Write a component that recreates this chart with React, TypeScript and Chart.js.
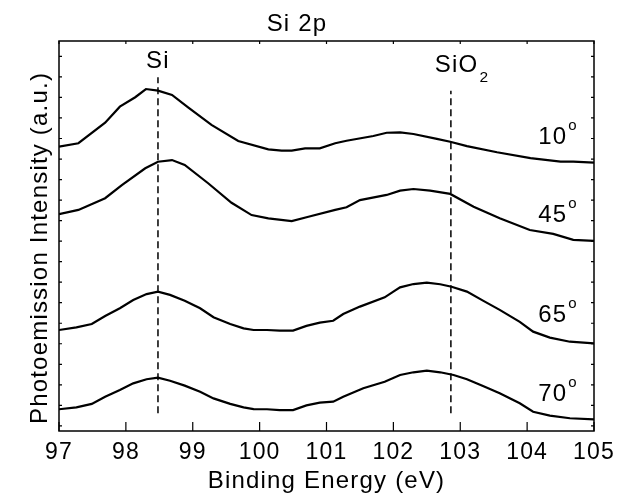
import { useEffect, useRef } from "react";
import { Chart, registerables } from "chart.js";

Chart.register(...registerables);

// ---- Data (binding energy in eV, intensity in arbitrary units) ----
const energy10 = [97.0, 97.29, 97.69, 97.91, 98.14, 98.3, 98.48, 98.69, 98.93, 99.28, 99.68, 100.13, 100.33, 100.48, 100.68, 100.9, 101.13, 101.3, 101.7, 101.9, 102.1, 102.3, 102.65, 102.85, 103.1, 103.55, 104.05, 104.5, 104.69, 105.0];
const intensity10 = [13.6, 13.77, 14.77, 15.55, 16.01, 16.41, 16.33, 16.12, 15.52, 14.66, 13.88, 13.47, 13.41, 13.41, 13.52, 13.52, 13.77, 13.89, 14.12, 14.28, 14.3, 14.22, 13.98, 13.84, 13.63, 13.33, 13.04, 12.87, 12.87, 12.82];

const energy45 = [97.0, 97.29, 97.69, 97.94, 98.29, 98.48, 98.69, 98.88, 99.23, 99.58, 99.88, 100.13, 100.48, 100.73, 101.13, 101.3, 101.5, 101.9, 102.1, 102.3, 102.55, 102.85, 103.2, 103.59, 104.04, 104.39, 104.69, 105.0];
const intensity45 = [10.31, 10.52, 11.09, 11.73, 12.55, 12.87, 12.95, 12.71, 11.82, 10.87, 10.27, 10.11, 9.98, 10.19, 10.52, 10.65, 11.0, 11.25, 11.46, 11.54, 11.46, 11.3, 10.68, 10.11, 9.54, 9.35, 9.06, 9.01];

const energy65 = [97.0, 97.26, 97.49, 97.69, 97.91, 98.11, 98.31, 98.48, 98.66, 98.88, 99.11, 99.31, 99.56, 99.76, 99.91, 100.11, 100.3, 100.5, 100.7, 100.9, 101.1, 101.25, 101.5, 101.87, 102.0, 102.1, 102.3, 102.5, 102.7, 102.87, 103.1, 103.34, 103.59, 103.89, 104.09, 104.34, 104.64, 105.0];
const intensity65 = [4.67, 4.8, 4.96, 5.35, 5.73, 6.13, 6.42, 6.54, 6.38, 6.1, 5.73, 5.29, 4.96, 4.75, 4.67, 4.67, 4.64, 4.64, 4.87, 5.03, 5.12, 5.45, 5.81, 6.26, 6.54, 6.75, 6.91, 6.98, 6.9, 6.78, 6.54, 6.1, 5.65, 5.07, 4.59, 4.3, 4.1, 4.02];

const energy70 = [97.0, 97.26, 97.49, 97.69, 97.91, 98.11, 98.31, 98.48, 98.66, 98.88, 99.11, 99.31, 99.56, 99.76, 99.91, 100.11, 100.3, 100.5, 100.7, 100.9, 101.1, 101.25, 101.55, 101.87, 102.1, 102.3, 102.5, 102.7, 102.9, 103.1, 103.34, 103.59, 103.89, 104.09, 104.34, 104.64, 105.0];
const intensity70 = [0.81, 0.9, 1.07, 1.42, 1.75, 2.07, 2.27, 2.35, 2.2, 1.96, 1.66, 1.34, 1.07, 0.9, 0.82, 0.81, 0.77, 0.77, 1.0, 1.13, 1.18, 1.42, 1.83, 2.15, 2.48, 2.61, 2.69, 2.61, 2.48, 2.27, 1.94, 1.59, 1.1, 0.69, 0.5, 0.37, 0.32];

// Reference peak positions (dashed markers)
const peakNames = ["Si", "SiO"];
const peakEnergies = [98.48, 102.86];
const peakTops = [16.98, 16.33];
const peakBottom = 0.61;
const peakLabelBaselines = [17.42, 17.25];

// Take-off angle labels
const angleLabels = ["10", "45", "65", "70"];
const angleLabelBaselines = [13.73, 9.95, 5.07, 1.23];
const angleLabelEnergy = 104.6;

// Axes
const xTickValues = [97, 98, 99, 100, 101, 102, 103, 104, 105];
const xTickLabels = ["97", "98", "99", "100", "101", "102", "103", "104", "105"];
const yTickValues = [0, 1, 2, 3, 4, 5, 6, 7, 8, 9, 10, 11, 12, 13, 14, 15, 16, 17, 18];

const FONT = "'Liberation Sans', Arial, Helvetica, sans-serif";

const toPoints = (xs: number[], ys: number[]) => xs.map((x, i) => ({ x, y: ys[i] }));

const framePlugin = {
  id: "frame",
  beforeInit(chart: any) {
    chart.ctx.letterSpacing = "1.2px";
  },
  beforeDraw(chart: any) {
    chart.ctx.letterSpacing = "1.2px";
  },
  afterDraw(chart: any) {
    const { ctx, chartArea, scales } = chart;
    const { left, right, top, bottom } = chartArea;
    const x = scales.x;
    const y = scales.y;
    ctx.save();
    ctx.letterSpacing = "1.2px";
    ctx.strokeStyle = "#000";
    ctx.lineWidth = 1.5;
    ctx.strokeRect(left, top, right - left, bottom - top);
    ctx.lineWidth = 1.2;
    ctx.beginPath();
    x.ticks.forEach((t: any) => {
      const px = x.getPixelForValue(t.value);
      ctx.moveTo(px, bottom);
      ctx.lineTo(px, bottom - 9);
      ctx.moveTo(px, top);
      ctx.lineTo(px, top + 3);
    });
    y.ticks.forEach((t: any) => {
      const py = y.getPixelForValue(t.value);
      ctx.moveTo(left, py);
      ctx.lineTo(left + 3, py);
      ctx.moveTo(right, py);
      ctx.lineTo(right - 3, py);
    });
    ctx.stroke();

    ctx.fillStyle = "#000";
    ctx.textBaseline = "alphabetic";

    // y axis title
    ctx.save();
    ctx.font = `24px ${FONT}`;
    ctx.textAlign = "center";
    ctx.translate(46.5, (top + bottom) / 2 + 12);
    ctx.rotate(-Math.PI / 2);
    ctx.fillText("Photoemission Intensity (a.u.)", 0, 0);
    ctx.restore();

    // peak labels
    ctx.font = `24px ${FONT}`;
    ctx.textAlign = "center";
    ctx.fillText(peakNames[0], x.getPixelForValue(peakEnergies[0]), y.getPixelForValue(peakLabelBaselines[0]));
    ctx.textAlign = "left";
    const sx = x.getPixelForValue(102.62);
    const sy = y.getPixelForValue(peakLabelBaselines[1]);
    ctx.fillText(peakNames[1], sx, sy);
    const w = ctx.measureText(peakNames[1]).width;
    ctx.font = `15.5px ${FONT}`;
    ctx.fillText("2", sx + w + 1, sy + 10);

    // angle labels
    angleLabels.forEach((lab, i) => {
      const ax = x.getPixelForValue(angleLabelEnergy);
      const ay = y.getPixelForValue(angleLabelBaselines[i]);
      ctx.font = `24px ${FONT}`;
      ctx.textAlign = "right";
      ctx.fillText(lab, ax, ay);
      ctx.font = `15px ${FONT}`;
      ctx.textAlign = "left";
      ctx.fillText("o", ax + 1, ay - 14);
    });
    ctx.restore();
  },
};

export default function App() {
  const canvasRef = useRef<HTMLCanvasElement | null>(null);

  useEffect(() => {
    if (!canvasRef.current) return;
    const curve = (xs: number[], ys: number[]) => ({
      data: toPoints(xs, ys),
      borderColor: "#000",
      borderWidth: 2.2,
      pointRadius: 0,
      tension: 0,
      fill: false,
    });
    const dashed = (i: number) => ({
      data: [
        { x: peakEnergies[i], y: peakBottom },
        { x: peakEnergies[i], y: peakTops[i] },
      ],
      borderColor: "#000",
      borderWidth: 1.5,
      borderDash: [7, 4],
      pointRadius: 0,
      fill: false,
    });
    const chart = new Chart(canvasRef.current, {
      type: "line",
      data: {
        datasets: [
          curve(energy10, intensity10),
          curve(energy45, intensity45),
          curve(energy65, intensity65),
          curve(energy70, intensity70),
          dashed(0),
          dashed(1),
        ],
      },
      options: {
        animation: false,
        responsive: false,
        layout: { padding: { left: 0, right: 32, top: 0, bottom: 0 } },
        plugins: {
          legend: { display: false },
          tooltip: { enabled: false },
          title: {
            display: true,
            text: "Si 2p",
            color: "#000",
            font: { family: FONT, size: 24, weight: "normal" },
            padding: { top: 9.6, bottom: 2.6 },
          },
        },
        scales: {
          x: {
            type: "linear",
            min: 97,
            max: 105,
            afterBuildTicks: (scale: any) => {
              scale.ticks = xTickValues.map((v) => ({ value: v }));
            },
            afterFit: (scale: any) => {
              scale.height = 68;
            },
            ticks: {
              color: "#000",
              font: { family: FONT, size: 23 },
              padding: 8,
              maxRotation: 0,
              autoSkip: false,
              callback: (v: any) => {
                const idx = xTickValues.indexOf(Number(v));
                return idx >= 0 ? xTickLabels[idx] : "";
              },
            },
            grid: { display: false, drawTicks: false },
            border: { display: false },
            title: {
              display: true,
              text: "Binding Energy (eV)",
              color: "#000",
              font: { family: FONT, size: 24 },
              padding: { top: 0, bottom: 3.3 },
            },
          },
          y: {
            type: "linear",
            min: -0.25,
            max: 18.75,
            afterBuildTicks: (scale: any) => {
              scale.ticks = yTickValues.map((v) => ({ value: v }));
            },
            afterFit: (scale: any) => {
              scale.width = 59;
            },
            ticks: { display: false },
            grid: { display: false, drawTicks: false },
            border: { display: false },
          },
        },
      } as any,
      plugins: [framePlugin],
    });
    return () => chart.destroy();
  }, []);

  return (
    <div style={{ position: "absolute", left: 0, top: 0, width: 626, height: 499, background: "#fff" }}>
      <canvas ref={canvasRef} width={626} height={499} style={{ display: "block" }} />
    </div>
  );
}
